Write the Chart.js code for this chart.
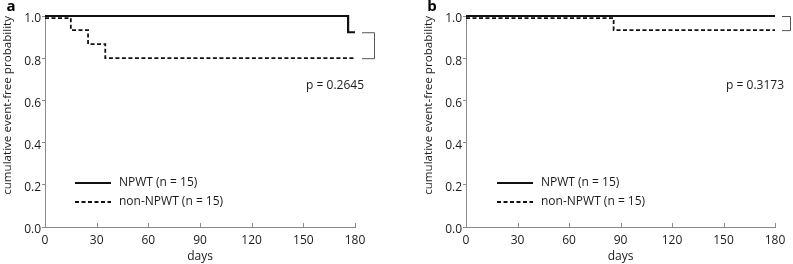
<!DOCTYPE html>
<html lang="en">
<head>
    <meta charset="UTF-8">
    <title>Event-free survival</title>
    <script src="https://cdn.jsdelivr.net/npm/chart.js"></script>
    <style>
        body { margin: 0; background: #fff; }
        .row { display: flex; width: 793px; height: 264px; }
    </style>
</head>
<body>
    <div class="row">
        <canvas id="chartA" width="400" height="264"></canvas>
        <canvas id="chartB" width="393" height="264"></canvas>
    </div>
    <script>
        // axis ticks
        const dayTicks = [0, 30, 60, 90, 120, 150, 180];
        const probTicks = [0, 0.2, 0.4, 0.6, 0.8, 1.0];

        // panel a
        const aNpwtDays = [0, 176, 180];
        const aNpwtProb = [1.0, 0.923, 0.923];
        const aNonDays = [0, 15, 25, 35, 180];
        const aNonProb = [0.99, 0.933, 0.867, 0.8, 0.8];

        // panel b
        const bNpwtDays = [0, 180];
        const bNpwtProb = [1.0, 1.0];
        const bNonDays = [0, 86, 180];
        const bNonProb = [0.99, 0.933, 0.933];

        const seriesLabels = ['NPWT (n = 15)', 'non-NPWT (n = 15)'];
        const pValues = ['p = 0.2645', 'p = 0.3173'];
        const panelLetters = ['a', 'b'];

        const FONT = "'Open Sans', sans-serif";
        const INK = '#111';
        const TEXT = '#1a1a1a';
        const AXIS = '#8a8a8a';

        function toPoints(xs, ys) {
            return xs.map((x, i) => ({ x: x, y: ys[i] }));
        }

        // inward x ticks, bracket, p value, legend and panel letter
        const extras = {
            id: 'extras',
            afterDraw(chart, args, opts) {
                const ctx = chart.ctx;
                const area = chart.chartArea;
                const xs = chart.scales.x;
                const ys = chart.scales.y;
                ctx.save();

                // small ticks pointing up from the x axis
                ctx.strokeStyle = AXIS;
                ctx.lineWidth = 1;
                xs.ticks.forEach(t => {
                    if (t.value === 0) return;
                    const px = Math.round(xs.getPixelForValue(t.value)) + 0.5;
                    ctx.beginPath();
                    ctx.moveTo(px, area.bottom);
                    ctx.lineTo(px, area.bottom - 4);
                    ctx.stroke();
                });

                // comparison bracket between the two curve ends
                const ds = chart.data.datasets;
                const yTop = ys.getPixelForValue(ds[0].data[ds[0].data.length - 1].y);
                const yBot = ys.getPixelForValue(ds[1].data[ds[1].data.length - 1].y);
                const bx0 = area.right + 7;
                const bx1 = area.right + opts.bracketWidth;
                ctx.strokeStyle = '#555';
                ctx.beginPath();
                ctx.moveTo(bx0, yTop + 0.5);
                ctx.lineTo(bx1 + 0.5, yTop + 0.5);
                ctx.lineTo(bx1 + 0.5, yBot + 0.5);
                ctx.lineTo(bx0, yBot + 0.5);
                ctx.stroke();

                // p value
                ctx.fillStyle = TEXT;
                ctx.font = '12px ' + FONT;
                ctx.textAlign = 'right';
                ctx.textBaseline = 'middle';
                ctx.fillText(opts.pText, area.right + 9, 86);

                // legend inside the plot
                const lx0 = area.left + opts.legendLeft;
                const lx1 = lx0 + 36;
                [183, 202].forEach((ly, i) => {
                    ctx.strokeStyle = INK;
                    ctx.lineWidth = i === 0 ? 2 : 1.8;
                    ctx.setLineDash(i === 0 ? [] : [4, 2.5]);
                    ctx.beginPath();
                    ctx.moveTo(lx0, ly);
                    ctx.lineTo(lx1, ly);
                    ctx.stroke();
                    ctx.setLineDash([]);
                    ctx.textAlign = 'left';
                    ctx.fillText(seriesLabels[i], lx1 + 8, ly);
                });

                // panel letter
                ctx.font = 'bold 15px ' + FONT;
                ctx.fillStyle = '#000';
                ctx.textAlign = 'center';
                ctx.fillText(opts.letter, area.left - 34, 7);
                ctx.restore();
            }
        };

        function makeChart(id, npwtX, npwtY, nonX, nonY, padLeft, padRight, extraOpts) {
            return new Chart(document.getElementById(id), {
                type: 'line',
                data: {
                    datasets: [{
                        label: seriesLabels[0],
                        data: toPoints(npwtX, npwtY),
                        borderColor: INK,
                        borderWidth: 2.2,
                        stepped: 'before',
                        pointRadius: 0,
                        clip: 4,
                        fill: false
                    }, {
                        label: seriesLabels[1],
                        data: toPoints(nonX, nonY),
                        borderColor: INK,
                        borderWidth: 1.8,
                        borderDash: [4, 2.5],
                        stepped: 'before',
                        pointRadius: 0,
                        clip: 4,
                        fill: false
                    }]
                },
                options: {
                    responsive: false,
                    animation: false,
                    layout: { padding: { left: padLeft, right: padRight, top: 16, bottom: 0 } },
                    scales: {
                        x: {
                            type: 'linear',
                            min: 0,
                            max: 180,
                            afterBuildTicks: s => { s.ticks = dayTicks.map(v => ({ value: v })); },
                            afterFit: s => { s.height = 37; },
                            grid: { drawOnChartArea: false, drawTicks: false },
                            border: { color: AXIS, width: 1 },
                            ticks: { padding: 6, color: TEXT, font: { family: FONT, size: 12 }, maxRotation: 0 },
                            title: { display: true, text: 'days', color: TEXT, font: { family: FONT, size: 12 }, padding: { top: 0, bottom: 0 } }
                        },
                        y: {
                            min: 0,
                            max: 1,
                            afterBuildTicks: s => { s.ticks = probTicks.map(v => ({ value: v })); },
                            afterFit: s => { s.width = 45; },
                            grid: { drawOnChartArea: false, drawTicks: true, tickLength: 3, color: AXIS },
                            border: { color: AXIS, width: 1 },
                            ticks: {
                                padding: 1,
                                labelOffset: 3,
                                color: TEXT,
                                font: { family: FONT, size: 12 },
                                callback: v => v.toFixed(1)
                            },
                            title: {
                                display: true,
                                text: 'cumulative event-free probability',
                                align: 'end',
                                color: TEXT,
                                font: { family: FONT, size: 11.6 },
                                padding: { top: 1, bottom: 0 }
                            }
                        }
                    },
                    plugins: {
                        legend: { display: false },
                        tooltip: { enabled: false },
                        extras: extraOpts
                    }
                },
                plugins: [extras]
            });
        }

        makeChart('chartA', aNpwtDays, aNpwtProb, aNonDays, aNonProb, 0, 45,
            { pText: pValues[0], letter: panelLetters[0], bracketWidth: 19, legendLeft: 30 });
        makeChart('chartB', bNpwtDays, bNpwtProb, bNonDays, bNonProb, 21, 18,
            { pText: pValues[1], letter: panelLetters[1], bracketWidth: 15, legendLeft: 31 });
    </script>
</body>
</html>
